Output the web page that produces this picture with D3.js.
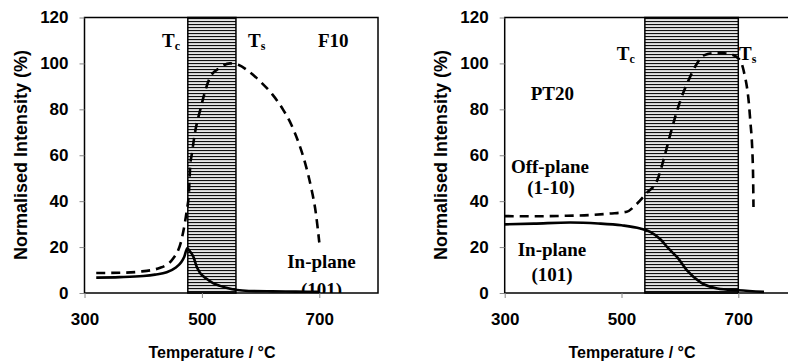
<!DOCTYPE html>
<html>
<head>
<meta charset="utf-8">
<script src="https://cdn.jsdelivr.net/npm/d3@7"></script>
<style>
  body { margin: 0; background: #fff; }
  svg text { fill: #000; }
  .tick-label { font-family: "Liberation Sans", Arial, sans-serif; font-weight: bold; font-size: 17px; }
  .x-title { font-family: "Liberation Sans", Arial, sans-serif; font-weight: bold; font-size: 16px; }
  .y-title { font-family: "Liberation Sans", Arial, sans-serif; font-weight: bold; font-size: 18px; }
  .note { font-family: "Liberation Serif", "Times New Roman", serif; font-weight: bold; font-size: 19px; }
</style>
</head>
<body>
<div id="chart"></div>
<script>
// ---- data ----
const xTicks = [300, 500, 700];
const yTicks = [0, 20, 40, 60, 80, 100, 120];

// F10 (left panel)
const f10InTemp  = [320, 360, 400, 420, 440, 455, 465, 470, 475, 480, 486, 491, 497, 508, 519, 531, 543, 560, 580, 620, 660, 700];
const f10InVal   = [6.7, 6.9, 7.4, 8.0, 9.0, 11.0, 13.5, 15.8, 19.5, 18.0, 15.5, 11.5, 8.7, 6.2, 4.3, 3.1, 2.2, 1.3, 0.9, 0.7, 0.6, 0.5];
const f10OffTemp = [320, 360, 394, 429, 451, 466, 474, 478, 480, 483, 488, 497, 514, 530, 548, 562, 580, 600, 620, 638, 652, 664, 676, 686, 694, 700];
const f10OffVal  = [8.7, 8.8, 9.3, 11, 15, 24, 35.6, 44, 55, 60.8, 69.5, 79.6, 94, 98, 100, 99.4, 96.5, 92, 86.5, 80, 73.5, 66, 56.5, 46, 35, 22];
const f10Band    = [476, 558];

// PT20 (right panel)
const pt20InTemp  = [300, 350, 412, 460, 500, 532, 550, 567, 580, 596, 613, 636, 664, 700, 744];
const pt20InVal   = [29.9, 30.2, 30.7, 30.3, 29.5, 28.1, 26.5, 23.3, 19.5, 15.4, 9.6, 4.5, 2.0, 1.2, 0.5];
const pt20OffTemp = [300, 350, 400, 450, 480, 509, 525, 543, 561, 572, 584, 601, 612, 627, 641, 663, 687, 701, 709, 720, 725, 726];
const pt20OffVal  = [33.5, 33.4, 33.6, 34, 34.6, 35.4, 38.5, 43.5, 49, 58, 69.5, 84, 91, 99, 103.5, 104.6, 104, 102, 97, 76.7, 55, 37.5];
const pt20Band    = [540, 700];

const width = 788, height = 362;
const svg = d3.select('#chart').append('svg').attr('width', width).attr('height', height);

// horizontal hatch for the Tc..Ts band
const defs = svg.append('defs');
const pat = defs.append('pattern').attr('id', 'hatch')
  .attr('patternUnits', 'userSpaceOnUse').attr('width', 6).attr('height', 3);
pat.append('rect').attr('width', 6).attr('height', 3).attr('fill', '#e6e6e6');
pat.append('rect').attr('y', 0).attr('width', 6).attr('height', 1.1).attr('fill', '#111');

const panels = [
  {
    id: 'f10', left: 84.5, right: 378, band: f10Band,
    series: [{t: f10OffTemp, v: f10OffVal, dash: '9,6'}, {t: f10InTemp, v: f10InVal, dash: null}],
    notes: [
      {text: 'T', sub: 'c', x: 180, y: 47, anchor: 'end'},
      {text: 'T', sub: 's', x: 248, y: 47, anchor: 'start'},
      {text: 'F10', x: 318, y: 47, anchor: 'start'},
      {text: 'In-plane', x: 321.5, y: 268, anchor: 'middle'},
      {text: '(101)', x: 321.5, y: 296, anchor: 'middle'}
    ],
    titleX: 212
  },
  {
    id: 'pt20', left: 504.7, right: 796.7, band: pt20Band,
    series: [{t: pt20OffTemp, v: pt20OffVal, dash: '9,6'}, {t: pt20InTemp, v: pt20InVal, dash: null}],
    notes: [
      {text: 'T', sub: 'c', x: 616.7, y: 60, anchor: 'start'},
      {text: 'T', sub: 's', x: 739, y: 60, anchor: 'start'},
      {text: 'PT20', x: 530.7, y: 100, anchor: 'start'},
      {text: 'Off-plane', x: 550, y: 173, anchor: 'middle'},
      {text: '(1-10)', x: 551, y: 194, anchor: 'middle'},
      {text: 'In-plane', x: 552, y: 256, anchor: 'middle'},
      {text: '(101)', x: 552, y: 281, anchor: 'middle'}
    ],
    titleX: 632
  }
];

const plotTop = 17.5, plotBottom = 293;

panels.forEach(p => {
  const x = d3.scaleLinear().domain([300, 800]).range([p.left, p.right]);
  const y = d3.scaleLinear().domain([0, 120]).range([plotBottom, plotTop]);
  const g = svg.append('g');

  defs.append('clipPath').attr('id', 'clip-' + p.id)
    .append('rect').attr('x', p.left).attr('y', plotTop)
    .attr('width', p.right - p.left).attr('height', plotBottom - plotTop);

  // band
  g.append('rect')
    .attr('x', x(p.band[0])).attr('y', plotTop)
    .attr('width', x(p.band[1]) - x(p.band[0])).attr('height', plotBottom - plotTop)
    .attr('fill', 'url(#hatch)').attr('stroke', '#000').attr('stroke-width', 1.5);

  // frame
  g.append('rect')
    .attr('x', p.left).attr('y', plotTop)
    .attr('width', p.right - p.left).attr('height', plotBottom - plotTop)
    .attr('fill', 'none').attr('stroke', '#000').attr('stroke-width', 1.5);

  // axes
  const yAxis = g.append('g').attr('transform', `translate(${p.left},0)`)
    .call(d3.axisLeft(y).tickValues(yTicks).tickSize(5).tickPadding(11));
  const xAxis = g.append('g').attr('transform', `translate(0,${plotBottom})`)
    .call(d3.axisBottom(x).tickValues(xTicks).tickSize(5).tickPadding(15));
  [xAxis, yAxis].forEach(a => {
    a.select('.domain').remove();
    a.selectAll('.tick line').attr('stroke', '#888').attr('stroke-width', 1);
    a.selectAll('.tick text').attr('class', 'tick-label').attr('fill', '#000');
  });

  // curves
  const line = d3.line().curve(d3.curveMonotoneX)
    .x(d => x(d[0])).y(d => y(d[1]));
  p.series.forEach(s => {
    g.append('path')
      .datum(s.t.map((t, i) => [t, s.v[i]]))
      .attr('d', line)
      .attr('fill', 'none').attr('stroke', '#000').attr('stroke-width', 2.6)
      .attr('stroke-dasharray', s.dash);
  });

  // annotations
  const notes = g.append('g').attr('clip-path', `url(#clip-${p.id})`);
  p.notes.forEach(n => {
    const t = notes.append('text').attr('class', 'note')
      .attr('x', n.x).attr('y', n.y).attr('text-anchor', n.anchor).text(n.text);
    if (n.sub) {
      t.append('tspan').attr('dy', 3).style('font-size', '12px').text(n.sub);
    }
  });

  // axis titles
  svg.append('text').attr('class', 'x-title')
    .attr('x', p.titleX).attr('y', 358).attr('text-anchor', 'middle')
    .text('Temperature / °C');
  svg.append('text').attr('class', 'y-title')
    .attr('transform', `translate(${p.left - 58},155) rotate(-90)`)
    .attr('text-anchor', 'middle')
    .text('Normalised Intensity (%)');
});
</script>
</body>
</html>
